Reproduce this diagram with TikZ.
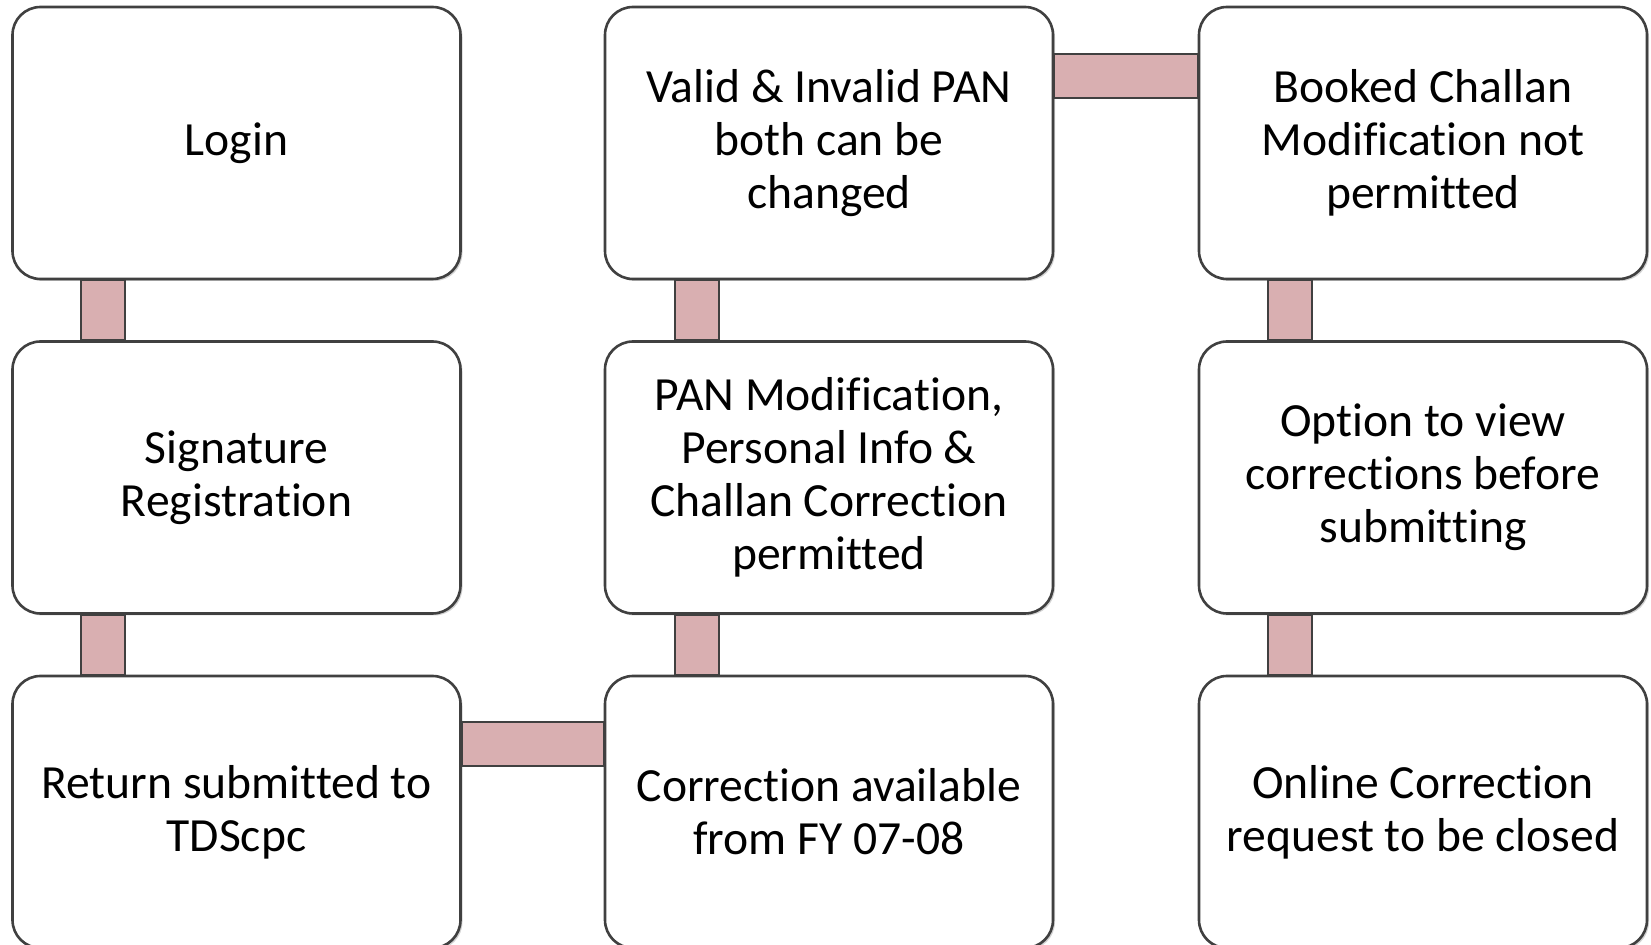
\documentclass[tikz,border=0pt]{standalone}
\usepackage{fontspec}
\setmainfont{Carlito}[Ligatures=CommonOff]
\usetikzlibrary{shadows}
\definecolor{linkpink}{HTML}{D9AFB1}
\definecolor{edgegray}{HTML}{404040}
\tikzset{
  stepbox/.style={draw=edgegray, line width=1.3pt, fill=white, rounded corners=14pt,
    minimum width=224pt, minimum height=136pt, align=center,
    font=\fontsize{23.8}{26.4}\selectfont,
    drop shadow={shadow xshift=1pt, shadow yshift=-1pt, opacity=0.35}},
  link/.style={draw=edgegray, line width=1.1pt, fill=linkpink}
}
\begin{document}
\begin{tikzpicture}[x=0.5pt,y=-0.5pt]
\useasboundingbox (0,0) rectangle (1651,945);
% Boxes
\node[stepbox] (login) at (236.5,143) {Login};
\node[stepbox] (sig) at (236.5,477.5) {Signature\\Registration};
\node[stepbox] (ret) at (236.5,812) {Return submitted to\\TDScpc};
\node[stepbox] (avail) at (829,812) {Correction available\\from FY 07-08};
\node[stepbox] (pan) at (829,477.5) {PAN Modification,\\Personal Info \&\\Challan Correction\\permitted};
\node[stepbox] (valid) at (829,143) {Valid \& Invalid PAN\\both can be\\changed};
\node[stepbox] (booked) at (1423,143) {Booked Challan\\Modification not\\permitted};
\node[stepbox] (view) at (1423,477.5) {Option to view\\corrections before\\submitting};
\node[stepbox] (closed) at (1423,812) {Online Correction\\request to be closed};

% Links
\draw[link] ([xshift=35pt]login.south west) rectangle ([xshift=57pt]sig.north west);
\draw[link] ([xshift=35pt]sig.south west) rectangle ([xshift=57pt]ret.north west);
\draw[link] ([yshift=-23.5pt]ret.north east) rectangle ([yshift=-45.5pt]avail.north west);
\draw[link] ([xshift=35.5pt]pan.south west) rectangle ([xshift=57.5pt]avail.north west);
\draw[link] ([xshift=35.5pt]valid.south west) rectangle ([xshift=57.5pt]pan.north west);
\draw[link] ([yshift=-24pt]valid.north east) rectangle ([yshift=-46pt]booked.north west);
\draw[link] ([xshift=35pt]booked.south west) rectangle ([xshift=57pt]view.north west);
\draw[link] ([xshift=35pt]view.south west) rectangle ([xshift=57pt]closed.north west);
\end{tikzpicture}
\end{document}
